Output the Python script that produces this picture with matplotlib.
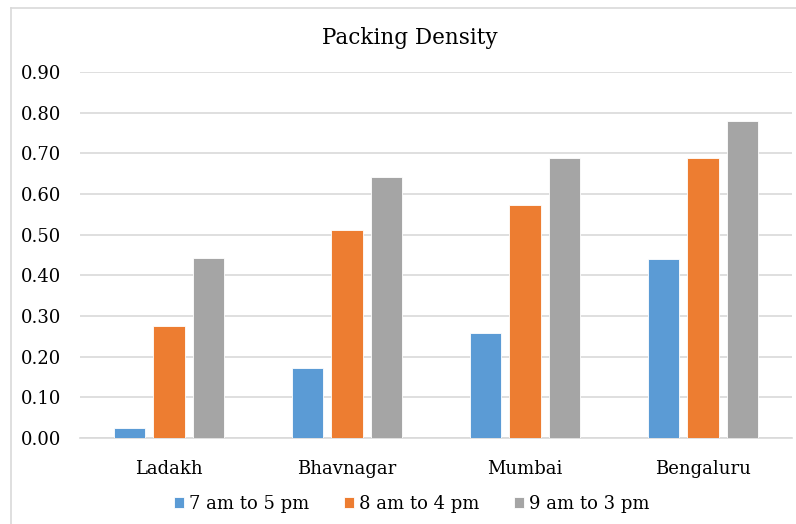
import matplotlib
matplotlib.use("Agg")
import matplotlib.pyplot as plt
import numpy as np

cities = ["Ladakh", "Bhavnagar", "Mumbai", "Bengaluru"]
series_names = ["7 am to 5 pm", "8 am to 4 pm", "9 am to 3 pm"]
density_7_5 = [0.025, 0.172, 0.258, 0.439]
density_8_4 = [0.275, 0.511, 0.573, 0.689]
density_9_3 = [0.443, 0.642, 0.689, 0.780]
y_ticks = [0.0, 0.1, 0.2, 0.3, 0.4, 0.5, 0.6, 0.7, 0.8, 0.9]

colors = ["#5b9bd5", "#ed7d31", "#a5a5a5"]
font = "DejaVu Serif"

fig = plt.figure(figsize=(7.96, 5.24), dpi=100)
ax = fig.add_axes([80 / 796, 1 - 438 / 524, 712 / 796, 366 / 524])

x = np.arange(len(cities))
width = 0.175
step = 0.22
for i, (vals, name) in enumerate(zip([density_7_5, density_8_4, density_9_3], series_names)):
    ax.bar(x + (i - 1) * step, vals, width=width, color=colors[i],
           edgecolor="white", linewidth=0.6, label=name, zorder=3)

ax.set_xlim(-0.5, len(cities) - 0.5)
ax.set_ylim(0, 0.9)
ax.set_yticks(y_ticks)
ax.set_yticklabels([f"{v:.2f}" for v in y_ticks], fontsize=13, family=font)
ax.set_xticks(x)
ax.set_xticklabels(cities, fontsize=13, family=font)
ax.tick_params(axis="x", length=0, pad=15.5)
ax.tick_params(axis="y", length=0, pad=13.5)
ax.grid(True, axis="y", color="#d9d9d9", linewidth=1.2, zorder=0)
for side in ["top", "right", "left"]:
    ax.spines[side].set_visible(False)
ax.spines["bottom"].set_color("#d9d9d9")
ax.spines["bottom"].set_linewidth(1.2)

fig.text(410 / 796, 1 - 38 / 524, "Packing Density", ha="center", va="center",
         fontsize=15.5, family=font)

fig.legend(loc="center", bbox_to_anchor=(412 / 796, 1 - 504 / 524), ncol=3,
           frameon=False, prop={"family": font, "size": 13},
           handlelength=0.55, handleheight=0.55, handletextpad=0.3, columnspacing=1.9)

# outer chart border
fig.add_artist(plt.Line2D([11 / 796, 11 / 796], [0, 1 - 8 / 524], color="#d9d9d9", linewidth=1.2))
fig.add_artist(plt.Line2D([11 / 796, 1], [1 - 8 / 524, 1 - 8 / 524], color="#d9d9d9", linewidth=1.2))

fig.savefig("out.png", dpi=100)
